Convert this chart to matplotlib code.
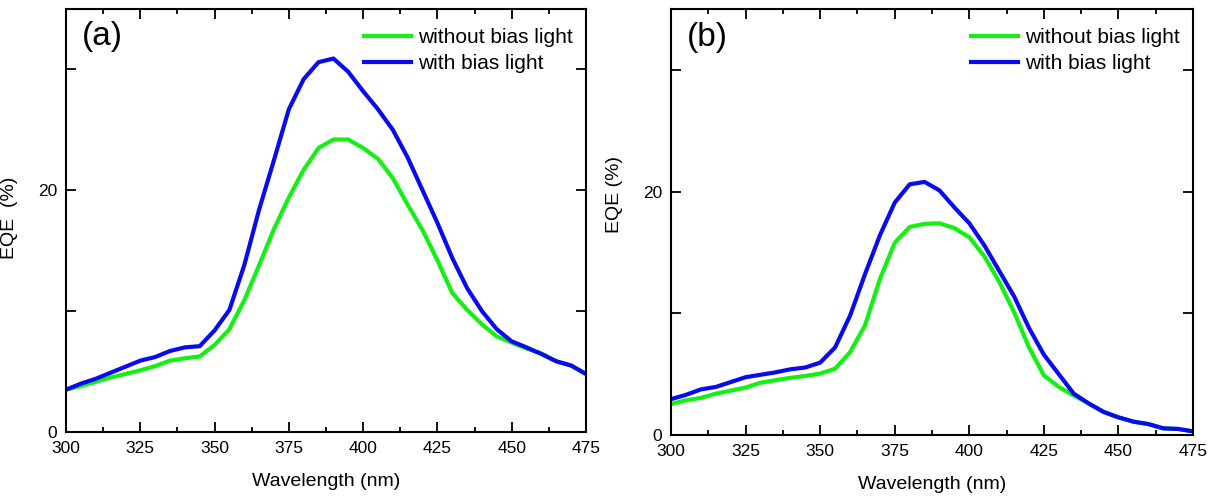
import numpy as np
import matplotlib
matplotlib.use("Agg")
import matplotlib.pyplot as plt
from matplotlib.ticker import MultipleLocator, FuncFormatter

plt.rcParams["font.family"] = ["Liberation Sans", "DejaVu Sans"]

wl = np.arange(300, 476, 5)

# panel (a)
a_without = [3.5, 3.8, 4.15, 4.5, 4.8, 5.1, 5.45, 5.9, 6.1, 6.25, 7.2, 8.5,
             10.9, 13.8, 16.8, 19.4, 21.7, 23.5, 24.2, 24.2, 23.5, 22.6, 21.0,
             18.8, 16.7, 14.2, 11.5, 10.1, 8.9, 7.9, 7.4, 6.9, 6.5, 5.85, 5.5, 4.8]
a_with = [3.5, 4.0, 4.4, 4.9, 5.4, 5.9, 6.2, 6.7, 7.0, 7.1, 8.4, 10.1,
          13.8, 18.4, 22.5, 26.7, 29.2, 30.6, 30.9, 29.8, 28.2, 26.7, 25.0,
          22.7, 20.0, 17.3, 14.4, 11.9, 10.0, 8.5, 7.5, 7.0, 6.45, 5.85, 5.5, 4.8]

# panel (b)
b_without = [2.55, 2.85, 3.05, 3.4, 3.65, 3.9, 4.3, 4.5, 4.7, 4.85, 5.05, 5.45,
             6.8, 9.0, 12.8, 15.8, 17.1, 17.35, 17.4, 17.0, 16.25, 14.7, 12.6,
             10.1, 7.2, 4.9, 3.95, 3.25, 2.6, 1.9, 1.45, 1.1, 0.9, 0.55, 0.5, 0.3]
b_with = [2.95, 3.3, 3.75, 3.95, 4.35, 4.75, 4.95, 5.15, 5.4, 5.55, 5.95, 7.2,
          9.8, 13.2, 16.4, 19.1, 20.6, 20.8, 20.1, 18.7, 17.4, 15.6, 13.5,
          11.4, 8.8, 6.6, 5.0, 3.4, 2.6, 1.9, 1.45, 1.1, 0.9, 0.55, 0.5, 0.3]

green = "#14f014"
blue = "#0a0aee"

fig = plt.figure(figsize=(12.17, 4.97), dpi=100)
ax1 = fig.add_axes([0.0542, 0.1308, 0.4273, 0.8511])
ax2 = fig.add_axes([0.5514, 0.1247, 0.4289, 0.857])

# axes, series, tag, ylabel text, ylabel position
panels = [(ax1, a_without, a_with, "(a)", "EQE  (%)", (-0.093, 0.506)),
          (ax2, b_without, b_with, "(b)", "EQE (%)", (-0.092, 0.565))]

for ax, y0, y1, tag, ylab, lpos in panels:
    ax.plot(wl, y0, color=green, lw=3, label="without bias light")
    ax.plot(wl, y1, color=blue, lw=3, label="with bias light")
    ax.set_xlim(300, 475)
    ax.set_ylim(0, 35)
    ax.xaxis.set_major_locator(MultipleLocator(25))
    ax.xaxis.set_minor_locator(MultipleLocator(12.5))
    ax.yaxis.set_major_locator(MultipleLocator(10))
    ax.yaxis.set_major_formatter(FuncFormatter(lambda v, p: "%d" % v if v % 20 == 0 else ""))
    ax.tick_params(which="both", direction="in", top=True, right=True, labelsize=12.5, width=1.3)
    ax.tick_params(which="major", length=7, pad=6.5)
    ax.tick_params(which="minor", length=3.5)
    for s in ax.spines.values():
        s.set_linewidth(1.5)
    ax.set_xlabel("Wavelength (nm)", fontsize=14, labelpad=12)
    ax.set_ylabel(ylab, fontsize=14)
    ax.yaxis.set_label_coords(*lpos)
    ax.text(0.031, 0.934, tag, transform=ax.transAxes, fontsize=24, va="center", ha="left")
    ax.legend(loc="upper right", bbox_to_anchor=(0.99, 0.975), borderaxespad=0,
              frameon=False, fontsize=15, handlelength=2.3, handletextpad=0.3,
              labelspacing=0.35)

fig.savefig("out.png", dpi=100)
